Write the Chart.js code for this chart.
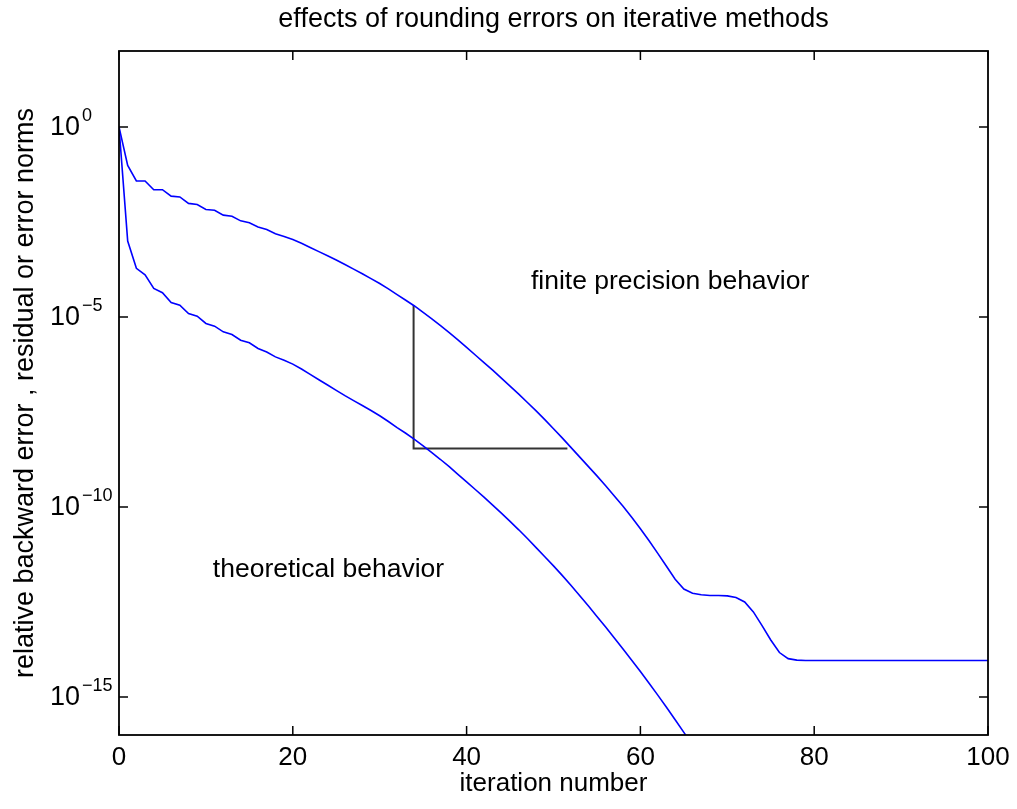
<!DOCTYPE html>
<html><head><meta charset="utf-8">
<script src="https://cdn.jsdelivr.net/npm/chart.js@4"></script>
<style>html,body{margin:0;padding:0;background:#fff;}#wrap{width:1017px;height:809px;}</style>
</head><body><div id="wrap"><canvas id="c" width="1017" height="809"></canvas></div>
<script>
// ---- data (log10 of the plotted norms) ----
const upperIterations = Array.from({length: 101}, (_, i) => i);
const upperLog10 = [
  0, -1.01, -1.42, -1.42, -1.65, -1.65, -1.82, -1.84, -2.01, -2.04,
  -2.17, -2.19, -2.32, -2.35, -2.47, -2.52, -2.63, -2.70, -2.81, -2.88,
  -2.96, -3.06, -3.17, -3.28, -3.39, -3.50, -3.62, -3.74, -3.86, -3.99,
  -4.12, -4.26, -4.41, -4.56, -4.71, -4.88, -5.05, -5.23, -5.41, -5.60,
  -5.80, -6.00, -6.20, -6.40, -6.61, -6.82, -7.03, -7.25, -7.47, -7.70,
  -7.94, -8.18, -8.43, -8.68, -8.93, -9.18, -9.44, -9.71, -9.98, -10.27,
  -10.57, -10.89, -11.22, -11.56, -11.90, -12.16, -12.27, -12.31, -12.33, -12.33,
  -12.34, -12.38, -12.50, -12.76, -13.12, -13.50, -13.83, -13.99, -14.03, -14.04,
  -14.04, -14.04, -14.04, -14.04, -14.04, -14.04, -14.04, -14.04, -14.04, -14.04,
  -14.04, -14.04, -14.04, -14.04, -14.04, -14.04, -14.04, -14.04, -14.04, -14.04,
  -14.04
];
const lowerIterations = Array.from({length: 67}, (_, i) => i);
const lowerLog10 = [
  0, -3.00, -3.72, -3.89, -4.25, -4.36, -4.62, -4.69, -4.91, -4.98,
  -5.17, -5.24, -5.39, -5.46, -5.61, -5.68, -5.83, -5.92, -6.05, -6.14,
  -6.24, -6.37, -6.51, -6.65, -6.79, -6.93, -7.07, -7.20, -7.33, -7.46,
  -7.60, -7.75, -7.91, -8.06, -8.22, -8.39, -8.57, -8.75, -8.94, -9.14,
  -9.34, -9.54, -9.74, -9.95, -10.16, -10.38, -10.60, -10.83, -11.07, -11.31,
  -11.55, -11.80, -12.06, -12.33, -12.60, -12.88, -13.16, -13.45, -13.74, -14.03,
  -14.33, -14.64, -14.95, -15.27, -15.60, -15.93, -16.27
];
const triangleX = [33.9, 33.9, 51.6];
const triangleLog10 = [-4.69, -8.46, -8.46];
const xTickValues = [0, 20, 40, 60, 80, 100];
const yTickExponents = [0, -5, -10, -15];
const annotationTexts = ['finite precision behavior', 'theoretical behavior'];
const annotationX = [47.4, 10.8];
const annotationLog10 = [-4.06, -11.66];

const FONT = '"Liberation Sans", Arial, Helvetica, sans-serif';
const toPoints = (xs, logs) => xs.map((x, i) => ({x: x, y: Math.pow(10, logs[i])}));

const frameAndText = {
  id: 'frameAndText',
  afterDatasetsDraw(chart) {
    const {ctx, chartArea: a, scales} = chart;
    const x = scales.x, y = scales.y;
    ctx.save();
    ctx.strokeStyle = '#000';
    ctx.lineWidth = 1.5;
    const seg = (x1, y1, x2, y2) => { ctx.beginPath(); ctx.moveTo(x1, y1); ctx.lineTo(x2, y2); ctx.stroke(); };
    const TL = 9;
    xTickValues.forEach(v => {
      const px = x.getPixelForValue(v);
      seg(px, a.bottom, px, a.bottom - TL);
      seg(px, a.top, px, a.top + TL);
    });
    yTickExponents.forEach(e => {
      const py = y.getPixelForValue(Math.pow(10, e));
      seg(a.left, py, a.left + TL, py);
      seg(a.right, py, a.right - TL, py);
    });
    ctx.lineWidth = 1.8;
    ctx.strokeRect(a.left, a.top, a.right - a.left, a.bottom - a.top);

    // y tick labels 10^e
    ctx.fillStyle = '#000';
    ctx.textBaseline = 'middle';
    ctx.textAlign = 'left';
    yTickExponents.forEach(e => {
      const py = y.getPixelForValue(Math.pow(10, e));
      ctx.font = '27px ' + FONT;
      const bx = 50;
      ctx.fillText('10', bx, py + 1);
      const w = ctx.measureText('10').width;
      ctx.font = '18px ' + FONT;
      const exp = e === 0 ? '0' : '\u2212' + String(-e);
      ctx.fillText(exp, bx + w + 2, py - 11);
    });

    // annotations
    ctx.font = '26.5px ' + FONT;
    annotationTexts.forEach((t, i) => {
      ctx.fillText(t, x.getPixelForValue(annotationX[i]), y.getPixelForValue(Math.pow(10, annotationLog10[i])));
    });
    ctx.restore();
  }
};

new Chart(document.getElementById('c'), {
  type: 'line',
  data: {
    datasets: [
      {label: 'finite precision behavior', data: toPoints(upperIterations, upperLog10),
       borderColor: '#0000ff', borderWidth: 1.6, pointRadius: 0, tension: 0, fill: false},
      {label: 'theoretical behavior', data: toPoints(lowerIterations, lowerLog10),
       borderColor: '#0000ff', borderWidth: 1.6, pointRadius: 0, tension: 0, fill: false},
      {label: 'delay', data: toPoints(triangleX, triangleLog10),
       borderColor: '#333333', borderWidth: 2, pointRadius: 0, tension: 0, fill: false}
    ]
  },
  options: {
    responsive: false,
    animation: false,
    devicePixelRatio: 1,
    layout: {padding: {left: 0, right: 29, top: 0, bottom: 0}},
    plugins: {
      legend: {display: false},
      tooltip: {enabled: false},
      title: {
        display: true, fullSize: false,
        text: 'effects of rounding errors on iterative methods',
        color: '#000', font: {family: FONT, size: 27, weight: 'normal', lineHeight: 1.2},
        padding: {top: 3.8, bottom: 14.8}
      }
    },
    scales: {
      x: {
        type: 'linear', min: 0, max: 100,
        grid: {display: false, drawTicks: false}, border: {display: false},
        ticks: {stepSize: 20, color: '#000', font: {family: FONT, size: 26}, padding: 7, maxRotation: 0},
        title: {display: true, text: 'iteration number', color: '#000',
                font: {family: FONT, size: 26}, padding: {top: 0, bottom: 10}},
        afterFit(s) { s.height = 74; }
      },
      y: {
        type: 'logarithmic', min: 1e-16, max: 1e2,
        grid: {display: false, drawTicks: false}, border: {display: false},
        ticks: {display: false},
        title: {display: true, text: 'relative backward error , residual or error norms', color: '#000',
                font: {family: FONT, size: 27}, padding: {top: 9.5, bottom: 0}},
        afterFit(s) { s.width = 119; }
      }
    }
  },
  plugins: [frameAndText]
});
</script>
</body></html>
